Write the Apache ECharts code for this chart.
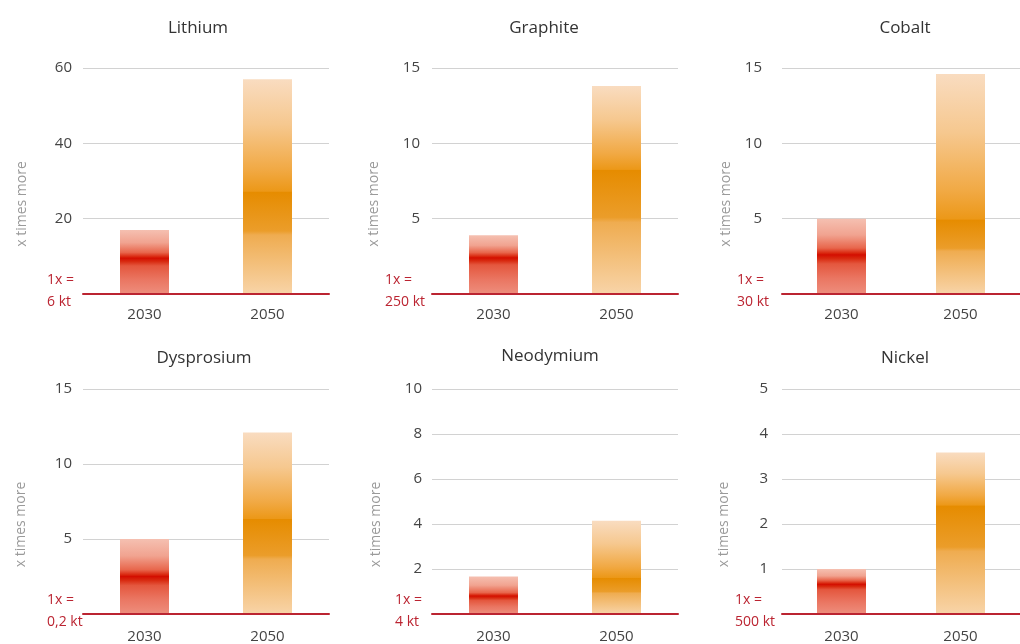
<!DOCTYPE html>
<html>
<head>
<meta charset="utf-8">
<title>Critical raw material demand</title>
<script src="https://cdn.jsdelivr.net/npm/echarts@6/dist/echarts.min.js"></script>
<style>
  html, body { margin: 0; padding: 0; background: #ffffff; }
  #chart { width: 1020px; height: 644px; }
</style>
</head>
<body>
<div id="chart"></div>
<script>
// Materials, one small panel each
const minerals = ['Lithium', 'Graphite', 'Cobalt', 'Dysprosium', 'Neodymium', 'Nickel'];
const years = ['2030', '2050'];
// Upper end of projected demand (multiples of today's supply)
const demand2030 = [17, 3.9, 5.0, 5.0, 1.67, 1.0];
const demand2050 = [57, 13.8, 14.6, 12.1, 4.14, 3.59];
// Central estimate, drawn as the darkest band of each bar
const central2030 = [9.5, 2.4, 2.6, 2.5, 0.8, 0.66];
const central2050 = [27, 8.2, 4.9, 6.3, 1.6, 2.4];
// Value axis ranges and tick steps
const axisMax = [60, 15, 15, 15, 10, 5];
const axisStep = [20, 5, 5, 5, 2, 1];
// Today's supply that 1x stands for
const baseUnits = ['6 kt', '250 kt', '30 kt', '0,2 kt', '4 kt', '500 kt'];

// Panel placement (pixels)
const layout = [
  { left: 83,  top: 68,  titleX: 193, titleY: 15,  nameGap: 54, margin: 11, zeroLeft: 47, xMargin: 13 },
  { left: 432, top: 68,  titleX: 539, titleY: 15,  nameGap: 41, margin: 12, zeroLeft: 385, xMargin: 13 },
  { left: 782, top: 68,  titleX: 900, titleY: 15,  nameGap: 49, margin: 20, zeroLeft: 737, xMargin: 13 },
  { left: 83,  top: 389, titleX: 199, titleY: 345, nameGap: 55, margin: 11, zeroLeft: 47, xMargin: 15 },
  { left: 432, top: 389, titleX: 545, titleY: 343, nameGap: 49, margin: 10, zeroLeft: 395, xMargin: 15 },
  { left: 782, top: 389, titleX: 900, titleY: 345, nameGap: 51, margin: 14, zeroLeft: 735, xMargin: 15 }
];
const GRID_W = 246, GRID_H = 226;
const FONT = '"Open Sans", "Noto Sans", sans-serif';
const RED = '#bb2431';

function clamp(x) { return Math.max(0, Math.min(1, x)); }

// Vertical band gradient, darkest at the central estimate
function gradient2030(value, central) {
  const p = clamp(1 - central / value);
  return new echarts.graphic.LinearGradient(0, 0, 0, 1, [
    { offset: 0, color: '#f5c0b1' },
    { offset: clamp(p * 0.45), color: '#f1a390' },
    { offset: clamp(p - 0.09), color: '#e8664c' },
    { offset: clamp(p - 0.02), color: '#d9240c' },
    { offset: p, color: '#d30e00' },
    { offset: clamp(p + 0.05), color: '#d82a10' },
    { offset: clamp(p + 0.12), color: '#e4573e' },
    { offset: clamp(p + (1 - p) * 0.6), color: '#ea7662' },
    { offset: 1, color: '#ee8e7d' }
  ]);
}
function gradient2050(value, central) {
  const p = clamp(1 - central / value);
  return new echarts.graphic.LinearGradient(0, 0, 0, 1, [
    { offset: 0, color: '#f9dcc0' },
    { offset: clamp(p * 0.4), color: '#f6c88f' },
    { offset: clamp(p * 0.8), color: '#f1a944' },
    { offset: clamp(p - 0.005), color: '#ec9818' },
    { offset: p, color: '#e68c00' },
    { offset: clamp(p + (1 - p) * 0.38), color: '#eb9d2a' },
    { offset: clamp(p + (1 - p) * 0.42), color: '#efac50' },
    { offset: 1, color: '#f8d4a8' }
  ]);
}

const grids = [], xAxes = [], yAxes = [], series = [], titles = [];

minerals.forEach(function (name, i) {
  const L = layout[i];
  titles.push({
    text: name,
    left: L.titleX,
    top: L.titleY,
    textAlign: 'center',
    textStyle: { fontFamily: FONT, fontSize: 17, fontWeight: 'normal', color: '#333' }
  });
  grids.push({ left: L.left, top: L.top, width: GRID_W, height: GRID_H });
  xAxes.push({
    type: 'category',
    gridIndex: i,
    data: years,
    axisLine: { show: true, lineStyle: { color: RED, width: 2 } },
    axisTick: { show: false },
    axisLabel: { margin: L.xMargin, fontFamily: FONT, fontSize: 15, color: '#444' },
    z: 5
  });
  const zeroWidth = L.left - L.margin - L.zeroLeft;
  yAxes.push({
    type: 'value',
    gridIndex: i,
    min: 0,
    max: axisMax[i],
    interval: axisStep[i],
    name: 'x times more',
    nameLocation: 'middle',
    nameRotate: 90,
    nameGap: L.nameGap,
    nameTextStyle: { fontFamily: FONT, fontSize: 14, color: '#9a9a9a', padding: [0, 46, 0, 0] },
    axisLine: { show: false },
    axisTick: { show: false },
    splitLine: { lineStyle: { color: '#d2d2d2', width: 1 } },
    axisLabel: {
      margin: L.margin,
      fontFamily: FONT,
      fontSize: 15,
      color: '#444',
      formatter: function (v) {
        if (v === 0) return '{u|1x =}\n{u|' + baseUnits[i] + '}\n{s| }';
        return String(v);
      },
      rich: {
        u: { fontFamily: FONT, fontSize: 14, color: RED, lineHeight: 22, width: zeroWidth, align: 'left' },
        s: { fontSize: 1, lineHeight: 6 }
      }
    }
  });
  series.push({
    type: 'bar',
    xAxisIndex: i,
    yAxisIndex: i,
    barWidth: 49,
    silent: true,
    data: [
      { value: demand2030[i], itemStyle: { color: gradient2030(demand2030[i], central2030[i]) } },
      { value: demand2050[i], itemStyle: { color: gradient2050(demand2050[i], central2050[i]) } }
    ]
  });
});

const chart = echarts.init(document.getElementById('chart'), null, { renderer: 'canvas' });
chart.setOption({
  backgroundColor: '#ffffff',
  animation: false,
  title: titles,
  grid: grids,
  xAxis: xAxes,
  yAxis: yAxes,
  series: series
});
</script>
</body>
</html>
